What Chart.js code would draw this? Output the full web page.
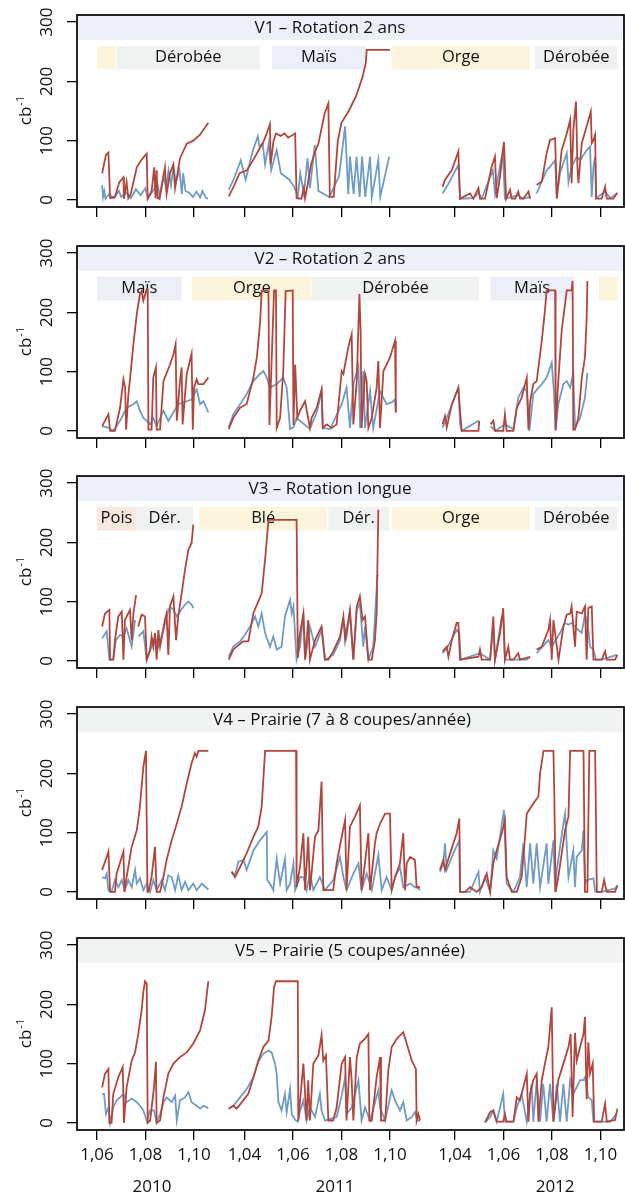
<!DOCTYPE html>
<html>
<head>
<meta charset="utf-8">
<script src="https://cdn.jsdelivr.net/npm/chart.js@4.4.1/dist/chart.umd.min.js"></script>
<style>
  body { margin: 0; background: #fff; width: 625px; height: 1194px; overflow: hidden; position: relative; }
  canvas { position: absolute; left: 0; }
</style>
</head>
<body>
<canvas id="p0"></canvas>
<canvas id="p1"></canvas>
<canvas id="p2"></canvas>
<canvas id="p3"></canvas>
<canvas id="p4"></canvas>
<script>
// x values are months (6.5 = mi-juin), one array per plot / year / depth
const years = ['2010', '2011', '2012'];
const seasonOffset = [0, 8.08, 16.76];   // where each season sits on the shared axis
const yearLabelAt = [8.27, 7.73, 8.13];  // month under which the year caption sits
const tickMonths = [[6, 8, 10], [4, 6, 8, 10], [4, 6, 8, 10]];
const yTicks = [0, 100, 200, 300];

const titles = ['V1 – Rotation 2 ans', 'V2 – Rotation 2 ans', 'V3 – Rotation longue',
  'V4 – Prairie (7 à 8 coupes/année)', 'V5 – Prairie (5 coupes/année)'];

// crop periods: [crop, label, from, to] on the shared axis
const cropsV1 = [['Orge', '', 6.0, 6.77], ['Dérobée', 'Dérobée', 6.81, 12.72], ['Maïs', 'Maïs', 13.22, 17.08],
  ['Orge', 'Orge', 18.15, 23.85], ['Dérobée', 'Dérobée', 24.06, 27.47]];
const cropsV2 = [['Maïs', 'Maïs', 6.0, 9.49], ['Orge', 'Orge', 9.92, 14.85], ['Dérobée', 'Dérobée', 14.87, 21.75],
  ['Maïs', 'Maïs', 22.21, 25.67], ['Orge', '', 26.7, 27.47]];
const cropsV3 = [['Pois', 'Pois', 6.0, 7.61], ['Dérobée', 'Dér.', 7.61, 9.97], ['Blé', 'Blé', 10.21, 15.5],
  ['Dérobée', 'Dér.', 15.54, 18.04], ['Orge', 'Orge', 18.16, 23.85], ['Dérobée', 'Dérobée', 24.06, 27.47]];

// V1
const v1Red2010 = [[6.21,45],[6.37,76],[6.47,80],[6.54,3],[6.74,5],[6.92,30],[7.09,38],[7.11,2],[7.22,30],[7.29,3],[7.39,10],[7.64,55],[7.84,68],[8.05,78],[8.09,2],[8.25,15],[8.36,55],[8.41,3],[8.46,50],[8.5,3],[8.57,2],[8.8,55],[8.87,10],[9.01,45],[9.15,60],[9.22,20],[9.42,70],[9.7,95],[9.97,100],[10.25,110],[10.59,130]];
const v1Blue2010 = [[6.21,25],[6.25,5],[6.3,15],[6.35,2],[6.5,10],[6.7,3],[6.9,15],[7.0,5],[7.2,12],[7.4,3],[7.6,18],[7.8,8],[8.0,20],[8.1,2],[8.3,15],[8.5,25],[8.6,5],[8.75,40],[8.85,20],[8.95,50],[9.05,25],[9.15,55],[9.25,30],[9.4,50],[9.5,10],[9.55,45],[9.65,15],[9.8,12],[9.95,5],[10.1,14],[10.25,4],[10.35,15],[10.5,3],[10.58,2]];
const v1Red2011 = [[3.35,6],[3.55,22],[3.8,45],[4.1,50],[4.4,70],[4.6,85],[4.75,95],[4.9,110],[5.05,128],[5.08,60],[5.2,100],[5.3,112],[5.5,108],[5.65,112],[5.8,105],[6.09,112],[6.15,3],[6.35,2],[6.45,20],[6.5,3],[6.6,25],[6.75,60],[6.9,80],[7.05,95],[7.3,145],[7.46,163],[7.52,5],[7.68,5],[7.85,100],[8.0,130],[8.3,150],[8.6,175],[8.85,205],[9.0,230],[9.04,253],[10.0,253]];
const v1Blue2011 = [[3.35,17],[3.55,34],[3.85,67],[4.05,34],[4.35,84],[4.55,107],[4.62,90],[4.75,96],[4.85,60],[5.0,95],[5.1,50],[5.33,84],[5.5,45],[5.85,34],[6.05,22],[6.2,6],[6.3,45],[6.45,10],[6.6,70],[6.7,20],[6.9,93],[7.05,15],[7.5,5],[7.9,40],[8.15,124],[8.28,10],[8.35,73],[8.5,10],[8.62,73],[8.75,5],[8.85,73],[8.98,5],[9.18,73],[9.25,5],[9.52,67],[9.6,5],[9.97,73]];
const v1Red2012 = [[3.49,22],[3.59,34],[3.87,50],[4.14,82],[4.21,2],[4.62,11],[4.76,2],[4.97,20],[5.03,2],[5.24,2],[5.51,56],[5.65,73],[5.72,3],[5.86,40],[6.02,98],[6.11,2],[6.27,17],[6.34,2],[6.48,2],[6.61,14],[6.68,2],[6.82,2],[7.03,14],[7.1,2],[7.2,null],[7.37,25],[7.58,31],[7.78,79],[7.92,101],[8.13,104],[8.2,2],[8.4,84],[8.61,112],[8.75,135],[8.81,28],[8.88,118],[8.99,166],[9.05,56],[9.09,28],[9.23,96],[9.43,124],[9.6,149],[9.64,96],[9.71,101],[9.78,110],[9.82,2],[10.05,2],[10.19,22],[10.26,2],[10.53,2],[10.7,12]];
const v1Blue2012 = [[3.49,11],[3.66,22],[4.14,59],[4.21,2],[4.76,3],[4.97,12],[5.1,2],[5.56,50],[5.65,10],[5.97,82],[6.06,2],[6.61,8],[6.82,2],[7.1,5],[7.2,null],[7.37,11],[7.78,50],[7.92,56],[8.13,67],[8.2,5],[8.33,45],[8.61,79],[8.68,30],[8.81,56],[9.02,73],[9.16,67],[9.43,84],[9.57,90],[9.64,5],[9.71,56],[9.78,73],[9.82,3],[10.19,14],[10.4,3],[10.67,11]];

// V2
const v2Red2010 = [[6.21,8],[6.47,28],[6.54,0],[6.74,0],[6.95,39],[7.09,87],[7.16,73],[7.2,2],[7.29,60],[7.36,87],[7.5,146],[7.64,197],[7.77,231],[7.84,236],[7.91,220],[8.05,239],[8.09,239],[8.12,2],[8.25,2],[8.32,90],[8.43,107],[8.46,2],[8.6,2],[8.74,84],[9.01,112],[9.15,129],[9.24,146],[9.29,17],[9.42,84],[9.49,107],[9.53,11],[9.7,96],[9.9,130],[9.95,2],[10.0,73],[10.11,87],[10.18,79],[10.39,79],[10.59,90]];
const v2Blue2010 = [[6.21,8],[6.47,5],[6.67,0],[6.95,17],[7.22,39],[7.5,45],[7.64,50],[7.77,34],[7.91,22],[8.05,17],[8.19,11],[8.32,22],[8.46,8],[8.74,34],[8.94,17],[9.15,31],[9.35,45],[9.7,50],[9.9,53],[10.11,70],[10.25,45],[10.39,50],[10.59,31]];
const v2Red2011 = [[3.35,3],[3.54,22],[3.82,39],[4.09,45],[4.37,90],[4.51,124],[4.64,180],[4.71,236],[4.99,237],[5.03,10],[5.22,237],[5.3,237],[5.33,5],[5.47,22],[5.6,101],[5.7,236],[5.99,237],[6.02,10],[6.09,112],[6.18,22],[6.29,34],[6.5,50],[6.7,5],[6.77,22],[6.98,39],[7.18,70],[7.23,5],[7.39,11],[7.6,5],[7.8,11],[8.01,101],[8.08,96],[8.15,112],[8.28,141],[8.42,163],[8.49,11],[8.63,84],[8.74,231],[8.79,170],[8.83,5],[8.97,96],[9.04,84],[9.11,5],[9.25,22],[9.45,73],[9.52,118],[9.59,5],[9.73,101],[9.86,112],[10.0,124],[10.21,152],[10.24,31]];
const v2Blue2011 = [[3.35,6],[3.54,28],[3.82,45],[4.09,62],[4.37,84],[4.64,96],[4.78,101],[4.92,90],[5.05,73],[5.33,79],[5.6,90],[5.74,73],[5.88,3],[6.02,6],[6.15,22],[6.29,17],[6.7,3],[6.98,31],[7.18,67],[7.23,5],[7.53,3],[8.01,45],[8.21,73],[8.35,5],[8.49,79],[8.7,110],[8.77,5],[8.9,101],[8.97,5],[9.18,67],[9.31,5],[9.59,67],[9.86,45],[10.07,48],[10.21,53],[10.24,31]];
const v2Red2012 = [[3.49,11],[3.59,25],[3.66,6],[3.87,45],[4.14,73],[4.21,34],[4.28,0],[4.97,0],[5.0,17],[5.2,null],[5.47,11],[5.58,17],[5.65,0],[5.99,0],[6.06,28],[6.13,0],[6.41,0],[6.55,39],[6.75,56],[6.96,90],[7.03,2],[7.1,50],[7.23,79],[7.37,84],[7.58,152],[7.71,203],[7.78,237],[8.13,237],[8.15,2],[8.26,84],[8.4,169],[8.61,237],[8.81,237],[8.85,253],[8.88,2],[8.95,2],[9.09,22],[9.23,90],[9.36,124],[9.43,190],[9.46,253]];
const v2Blue2012 = [[3.49,6],[3.66,22],[3.93,50],[4.14,73],[4.21,11],[4.28,0],[4.97,17],[5.2,null],[5.47,8],[5.65,0],[6.06,11],[6.41,3],[6.61,56],[6.82,73],[6.96,67],[7.07,0],[7.23,62],[7.44,73],[7.58,79],[7.78,90],[7.99,115],[8.08,67],[8.15,0],[8.26,45],[8.47,79],[8.61,84],[8.75,73],[8.88,98],[8.95,6],[9.16,22],[9.36,56],[9.46,98]];

// V3
const v3Red2010 = [[6.21,58],[6.33,80],[6.51,86],[6.54,2],[6.67,2],[6.74,35],[6.88,75],[7.02,83],[7.09,2],[7.15,69],[7.36,86],[7.43,35],[7.5,80],[7.61,111],[7.65,null],[7.7,58],[7.84,78],[7.98,75],[8.05,2],[8.19,19],[8.25,41],[8.32,24],[8.39,47],[8.46,2],[8.53,52],[8.6,24],[8.8,69],[8.87,80],[8.94,10],[9.01,92],[9.15,109],[9.26,35],[9.35,75],[9.49,114],[9.63,154],[9.77,188],[9.9,199],[9.97,230]];
const v3Blue2010 = [[6.21,38],[6.4,50],[6.51,2],[6.67,2],[6.78,35],[6.95,44],[7.09,41],[7.22,55],[7.43,24],[7.57,69],[7.65,null],[7.7,41],[7.91,50],[8.05,2],[8.25,24],[8.39,41],[8.53,24],[8.74,52],[8.87,75],[9.01,92],[9.15,86],[9.29,75],[9.42,83],[9.63,95],[9.77,100],[9.9,95],[9.97,89]];
const v3Red2011 = [[3.35,2],[3.54,19],[3.68,24],[3.95,33],[4.16,33],[4.37,81],[4.57,100],[4.71,114],[4.85,171],[4.99,238],[6.15,238],[6.2,5],[6.29,47],[6.43,80],[6.5,2],[6.63,69],[6.7,2],[6.91,35],[7.18,58],[7.32,2],[7.46,2],[7.66,16],[7.94,41],[8.08,75],[8.15,35],[8.35,86],[8.49,2],[8.63,92],[8.76,109],[8.87,69],[8.97,75],[9.11,2],[9.25,2],[9.38,35],[9.45,80],[9.52,255]];
const v3Blue2011 = [[3.35,7],[3.54,24],[3.82,33],[4.02,44],[4.23,58],[4.44,75],[4.57,58],[4.71,80],[4.85,47],[5.05,24],[5.19,41],[5.33,19],[5.53,24],[5.67,75],[5.88,103],[5.95,80],[6.02,92],[6.15,2],[6.29,24],[6.43,80],[6.5,2],[6.7,58],[6.91,24],[7.18,52],[7.32,2],[7.66,10],[7.94,35],[8.08,69],[8.21,41],[8.35,80],[8.49,2],[8.63,86],[8.76,97],[8.9,24],[8.97,58],[9.11,2],[9.31,24],[9.48,143],[9.52,145]];
const v3Red2012 = [[3.49,16],[3.66,24],[3.73,7],[3.87,35],[4.07,64],[4.14,64],[4.21,2],[4.97,7],[5.03,19],[5.1,2],[5.45,2],[5.58,75],[5.65,2],[5.86,47],[5.99,89],[6.06,2],[6.2,24],[6.27,2],[6.41,2],[6.61,13],[6.68,2],[7.1,7],[7.2,null],[7.37,19],[7.58,24],[7.85,52],[7.92,69],[7.99,2],[8.06,69],[8.27,2],[8.47,58],[8.61,78],[8.75,80],[8.81,92],[8.95,24],[9.02,83],[9.23,80],[9.36,92],[9.43,2],[9.5,89],[9.64,92],[9.71,2],[10.05,2],[10.19,16],[10.26,2],[10.6,2],[10.7,10]];
const v3Blue2012 = [[3.49,13],[3.66,21],[4.07,52],[4.18,47],[4.24,2],[5.03,13],[5.45,2],[5.58,58],[5.65,2],[5.93,75],[5.99,75],[6.06,2],[6.96,2],[7.1,7],[7.2,null],[7.37,13],[7.85,35],[7.99,24],[8.33,47],[8.54,64],[8.68,61],[8.81,64],[9.09,52],[9.23,47],[9.36,80],[9.5,52],[9.57,24],[9.71,19],[9.82,2],[10.05,2],[10.67,10]];

// V4
const v4Red2010 = [[6.21,37],[6.4,59],[6.47,68],[6.54,0],[6.74,0],[6.81,31],[7.02,59],[7.09,68],[7.13,0],[7.22,25],[7.43,76],[7.64,104],[7.77,144],[7.91,211],[8.02,238],[8.08,0],[8.12,0],[8.25,25],[8.39,76],[8.46,0],[8.6,0],[8.74,25],[8.87,54],[9.08,87],[9.29,115],[9.49,144],[9.7,183],[9.9,217],[10.04,234],[10.11,228],[10.18,238],[10.59,238]];
const v4Blue2010 = [[6.21,25],[6.33,23],[6.4,31],[6.47,2],[6.6,0],[6.74,20],[6.88,8],[7.02,20],[7.15,3],[7.29,20],[7.43,8],[7.57,37],[7.64,14],[7.77,23],[7.91,3],[8.05,14],[8.19,0],[8.32,20],[8.46,3],[8.67,20],[8.8,3],[8.94,28],[9.08,25],[9.22,3],[9.35,28],[9.49,3],[9.63,17],[9.77,3],[9.97,14],[10.11,3],[10.32,14],[10.59,4]];
const v4Red2011 = [[3.47,34],[3.61,25],[3.82,42],[4.09,65],[4.37,93],[4.57,110],[4.71,144],[4.85,238],[6.13,238],[6.15,8],[6.29,42],[6.43,99],[6.5,3],[6.63,93],[6.7,3],[6.91,93],[7.05,104],[7.18,186],[7.25,3],[7.39,3],[7.66,3],[7.8,48],[8.01,93],[8.15,121],[8.21,3],[8.35,110],[8.56,127],[8.76,146],[8.83,3],[8.9,25],[9.11,99],[9.18,3],[9.38,82],[9.45,99],[9.59,115],[9.8,132],[10.0,132],[10.07,3],[10.21,25],[10.41,48],[10.55,99],[10.62,3],[10.69,48],[10.83,59],[11.03,54],[11.1,8],[11.24,8]];
const v4Blue2011 = [[3.47,34],[3.61,28],[3.75,51],[3.96,54],[4.09,37],[4.37,70],[4.64,87],[4.92,101],[4.94,20],[5.05,14],[5.19,3],[5.33,56],[5.47,14],[5.67,56],[5.74,3],[5.88,14],[6.02,48],[6.09,3],[6.29,25],[6.43,25],[6.56,3],[6.7,31],[6.84,3],[7.11,25],[7.32,3],[7.66,20],[7.94,59],[8.08,25],[8.21,3],[8.49,31],[8.7,48],[8.83,3],[9.04,31],[9.25,3],[9.52,62],[9.66,3],[9.86,25],[10.07,3],[10.21,25],[10.41,42],[10.55,8],[10.83,14],[11.03,8],[11.17,6],[11.24,3]];
const v4Red2012 = [[3.38,37],[3.52,54],[3.59,37],[3.8,65],[4.07,99],[4.18,124],[4.21,0],[4.42,0],[4.62,8],[4.9,0],[5.1,8],[5.31,31],[5.45,0],[5.58,48],[5.72,70],[5.93,99],[6.06,121],[6.13,25],[6.34,0],[6.55,0],[6.75,25],[6.89,93],[6.96,132],[7.23,149],[7.44,161],[7.51,200],[7.65,238],[8.06,238],[8.1,155],[8.15,0],[8.26,25],[8.54,104],[8.68,127],[8.75,238],[9.3,238],[9.36,0],[9.46,0],[9.54,238],[9.78,238],[9.85,0],[10.05,0],[10.15,20],[10.26,0],[10.6,0],[10.7,11]];
const v4Blue2012 = [[3.38,34],[3.52,48],[3.59,82],[3.66,37],[3.93,65],[4.18,87],[4.21,0],[4.62,0],[4.97,34],[5.03,0],[5.24,25],[5.45,0],[5.58,70],[5.72,56],[6.02,138],[6.13,14],[6.41,0],[6.68,25],[6.82,82],[6.96,8],[7.1,82],[7.23,14],[7.37,82],[7.51,8],[7.78,82],[7.85,14],[8.06,87],[8.13,0],[8.2,37],[8.47,115],[8.54,132],[8.68,25],[8.88,70],[8.95,8],[9.02,59],[9.23,70],[9.3,104],[9.36,14],[9.43,20],[9.71,23],[9.78,0],[10.05,0],[10.6,6],[10.7,10]];

// V5
const v5Red2010 = [[6.21,60],[6.33,83],[6.47,91],[6.51,0],[6.6,0],[6.67,49],[6.88,77],[7.06,94],[7.11,0],[7.22,60],[7.43,105],[7.57,119],[7.7,150],[7.84,190],[7.91,221],[7.98,239],[8.05,235],[8.09,0],[8.19,4],[8.35,60],[8.43,103],[8.46,0],[8.6,4],[8.74,43],[8.94,83],[9.15,100],[9.42,111],[9.7,119],[9.97,134],[10.25,156],[10.45,190],[10.59,239]];
const v5Blue2010 = [[6.21,49],[6.29,49],[6.37,15],[6.47,26],[6.54,0],[6.67,26],[6.81,38],[6.95,43],[7.09,49],[7.22,35],[7.43,41],[7.64,35],[7.77,29],[7.91,21],[8.05,4],[8.19,21],[8.35,21],[8.46,0],[8.6,15],[8.74,35],[8.87,43],[9.08,35],[9.22,46],[9.29,4],[9.42,38],[9.63,43],[9.77,52],[9.9,35],[10.11,29],[10.25,24],[10.39,29],[10.59,25]];
const v5Red2011 = [[3.35,24],[3.54,29],[3.68,24],[3.95,38],[4.16,49],[4.37,77],[4.57,105],[4.78,128],[4.99,139],[5.12,179],[5.22,229],[5.3,239],[6.2,239],[6.22,4],[6.43,100],[6.56,4],[6.63,72],[6.7,4],[6.84,100],[7.05,114],[7.18,148],[7.25,105],[7.36,114],[7.46,4],[7.66,4],[7.8,26],[8.01,100],[8.15,111],[8.21,4],[8.35,111],[8.42,72],[8.49,4],[8.63,111],[8.76,134],[8.97,142],[9.11,150],[9.15,4],[9.25,4],[9.45,77],[9.59,111],[9.63,4],[9.8,4],[9.93,88],[10.07,128],[10.28,142],[10.55,153],[10.69,134],[10.9,105],[11.07,91],[11.1,4],[11.17,15],[11.24,4]];
const v5Blue2011 = [[3.35,24],[3.54,29],[3.82,43],[4.09,57],[4.37,77],[4.57,103],[4.78,117],[4.99,122],[5.12,119],[5.26,100],[5.33,83],[5.4,35],[5.53,21],[5.67,49],[5.74,18],[5.88,57],[5.95,15],[6.09,5],[6.2,2],[6.29,20],[6.43,38],[6.56,4],[6.7,26],[6.91,10],[7.11,49],[7.18,21],[7.32,4],[7.8,10],[8.01,46],[8.15,77],[8.21,15],[8.42,26],[8.7,72],[8.83,4],[8.97,26],[9.18,4],[9.52,55],[9.59,26],[9.8,4],[10.07,55],[10.21,38],[10.41,21],[10.55,35],[10.69,4],[10.9,10],[11.03,18],[11.13,4],[11.24,4]];
const v5Red2012 = [[5.24,1],[5.45,18],[5.58,21],[5.72,2],[5.99,2],[6.06,15],[6.13,2],[6.41,2],[6.55,43],[6.68,38],[6.82,60],[6.96,83],[7.03,2],[7.1,49],[7.23,72],[7.37,83],[7.44,2],[7.58,72],[7.71,100],[7.85,128],[7.99,195],[8.06,2],[8.26,72],[8.47,100],[8.68,128],[8.77,150],[8.85,10],[8.95,152],[9.02,105],[9.16,128],[9.3,150],[9.36,179],[9.43,40],[9.5,136],[9.57,83],[9.68,100],[9.74,2],[10.05,2],[10.19,32],[10.26,2],[10.6,5],[10.7,24]];
const v5Blue2012 = [[5.24,1],[5.45,10],[5.58,21],[5.72,2],[5.99,49],[6.06,2],[6.41,2],[6.55,26],[6.75,49],[6.96,2],[7.16,66],[7.23,2],[7.37,72],[7.51,2],[7.64,66],[7.78,2],[7.92,66],[8.06,2],[8.2,66],[8.33,2],[8.47,66],[8.61,2],[8.75,72],[8.88,49],[9.16,72],[9.3,72],[9.36,77],[9.5,43],[9.64,38],[9.71,2],[10.05,2],[10.4,2],[10.67,16]];

const RED = '#b3463c';
const BLUE = '#6f9cc6';
const INK = '#111';
const FONT = "'Open Sans', 'Noto Sans', sans-serif";
const cropColor = { 'Orge': '#fdf4dc', 'Blé': '#fdf4dc', 'Dérobée': '#f0f2f2', 'Maïs': '#eceff8', 'Pois': '#f9e8dd' };

const X_MIN = 5.175, X_MAX = 27.73;

const panels = [
  { red: [v1Red2010, v1Red2011, v1Red2012], blue: [v1Blue2010, v1Blue2011, v1Blue2012], crops: cropsV1, head: '#edf0f8', titleX: 330 },
  { red: [v2Red2010, v2Red2011, v2Red2012], blue: [v2Blue2010, v2Blue2011, v2Blue2012], crops: cropsV2, head: '#edf0f8', titleX: 330 },
  { red: [v3Red2010, v3Red2011, v3Red2012], blue: [v3Blue2010, v3Blue2011, v3Blue2012], crops: cropsV3, head: '#edf0f8', titleX: 330 },
  { red: [v4Red2010, v4Red2011, v4Red2012], blue: [v4Blue2010, v4Blue2011, v4Blue2012], crops: [], head: '#f1f2f2', titleX: 342 },
  { red: [v5Red2010, v5Red2011, v5Red2012], blue: [v5Blue2010, v5Blue2011, v5Blue2012], crops: [], head: '#f1f2f2', titleX: 350 }
];
const canvasTop = [0, 231, 461, 692, 923];

// put the three seasons end to end, with a break between them
function serie(seasons) {
  const pts = [];
  seasons.forEach((s, k) => {
    s.forEach(([m, v]) => pts.push({ x: m + seasonOffset[k], y: v }));
    const last = s[s.length - 1][0] + seasonOffset[k];
    pts.push({ x: last + 0.01, y: null });
  });
  return pts;
}

const tickPos = [], tickLab = [];
tickMonths.forEach((ms, k) => ms.forEach(m => {
  tickPos.push(m + seasonOffset[k]);
  tickLab.push('1,' + String(m).padStart(2, '0'));
}));

const decor = {
  id: 'decor',
  beforeDatasetsDraw(chart, args, opts) {
    const { ctx } = chart;
    const xs = chart.scales.x, ys = chart.scales.y;
    const top = ys.getPixelForValue(312), stripBot = ys.getPixelForValue(270);
    ctx.save();
    ctx.fillStyle = opts.head;
    ctx.fillRect(xs.left, top, xs.right - xs.left, stripBot - top);
    ctx.fillStyle = INK;
    ctx.font = '17px ' + FONT;
    ctx.textAlign = 'center';
    ctx.textBaseline = 'middle';
    ctx.fillText(opts.title, opts.titleX, (top + stripBot) / 2 + 1);
    const b0 = ys.getPixelForValue(260), b1 = ys.getPixelForValue(220);
    ctx.font = '16.5px ' + FONT;
    opts.crops.forEach(([crop, label, from, to]) => {
      const x0 = xs.getPixelForValue(from), x1 = xs.getPixelForValue(to);
      ctx.fillStyle = cropColor[crop];
      ctx.fillRect(x0, b0, x1 - x0, b1 - b0);
      if (label) {
        ctx.fillStyle = INK;
        ctx.fillText(label, (x0 + x1) / 2, (b0 + b1) / 2);
      }
    });
    ctx.restore();
  },
  afterDraw(chart, args, opts) {
    const { ctx, chartArea: a } = chart;
    const ys = chart.scales.y, xs = chart.scales.x;
    ctx.save();
    ctx.strokeStyle = '#000';
    ctx.lineWidth = 1.7;
    ctx.strokeRect(a.left, a.top, a.right - a.left, a.bottom - a.top);
    ctx.fillStyle = INK;
    ctx.font = '17px ' + FONT;
    ctx.textAlign = 'center';
    ctx.textBaseline = 'middle';
    yTicks.forEach(v => {
      ctx.save();
      ctx.translate(47, ys.getPixelForValue(v));
      ctx.rotate(-Math.PI / 2);
      ctx.fillText(String(v), 0, 0);
      ctx.restore();
    });
    // axis title cb-1
    ctx.save();
    ctx.translate(25, (a.top + a.bottom) / 2);
    ctx.rotate(-Math.PI / 2);
    ctx.textAlign = 'left';
    ctx.textBaseline = 'alphabetic';
    ctx.font = '17px ' + FONT;
    const w1 = ctx.measureText('cb').width;
    ctx.font = '11px ' + FONT;
    const w2 = ctx.measureText('-1').width;
    ctx.font = '17px ' + FONT;
    ctx.fillText('cb', -(w1 + w2) / 2, 6);
    ctx.font = '11px ' + FONT;
    ctx.fillText('-1', -(w1 + w2) / 2 + w1 + 1, -1);
    ctx.restore();
    if (opts.last) {
      ctx.font = '17px ' + FONT;
      ctx.textAlign = 'center';
      ctx.textBaseline = 'middle';
      years.forEach((y, k) => {
        ctx.fillText(y, xs.getPixelForValue(yearLabelAt[k] + seasonOffset[k]), 264);
      });
    }
    ctx.restore();
  }
};

panels.forEach((p, i) => {
  const last = i === panels.length - 1;
  const h = last ? 1194 - canvasTop[i] : 231;
  const cv = document.getElementById('p' + i);
  cv.width = 625; cv.height = h;
  cv.style.top = canvasTop[i] + 'px';
  cv.style.width = '625px'; cv.style.height = h + 'px';
  new Chart(cv, {
    type: 'line',
    data: {
      datasets: [
        { data: serie(p.red), borderColor: RED, borderWidth: 1.8, pointRadius: 0, spanGaps: false, tension: 0 },
        { data: serie(p.blue), borderColor: BLUE, borderWidth: 1.8, pointRadius: 0, spanGaps: false, tension: 0 }
      ]
    },
    options: {
      responsive: false,
      animation: false,
      devicePixelRatio: 1,
      layout: { padding: { top: 15, right: 1, left: 0, bottom: 0 } },
      plugins: {
        legend: { display: false },
        tooltip: { enabled: false },
        decor: { title: titles[i], titleX: p.titleX, head: p.head, crops: p.crops, last: last }
      },
      scales: {
        x: {
          type: 'linear', min: X_MIN, max: X_MAX,
          afterBuildTicks: s => { s.ticks = tickPos.map(v => ({ value: v })); },
          afterFit: s => { s.height = h - 15 - 192; },
          grid: { drawOnChartArea: false, drawTicks: true, tickLength: 10, color: '#000', lineWidth: 1.3 },
          border: { display: false },
          ticks: { display: last, padding: 5, autoSkip: false, maxRotation: 0, minRotation: 0,
            color: INK, font: { family: FONT, size: 17 },
            callback: (v, idx) => tickLab[idx] }
        },
        y: {
          min: -12, max: 312,
          afterBuildTicks: s => { s.ticks = yTicks.map(v => ({ value: v })); },
          afterFit: s => { s.width = 77; },
          grid: { drawOnChartArea: false, drawTicks: true, tickLength: 10, color: '#000', lineWidth: 1.3 },
          border: { display: false },
          ticks: { display: false }
        }
      }
    },
    plugins: [decor]
  });
});
</script>
</body>
</html>
